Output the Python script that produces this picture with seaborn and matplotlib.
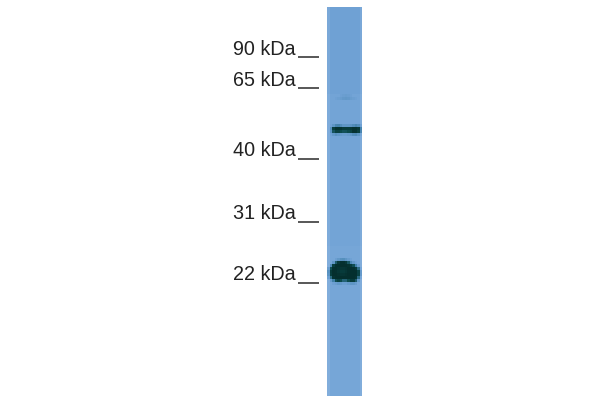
import matplotlib
import numpy as np

matplotlib.use("Agg")

import matplotlib.pyplot as plt
import seaborn as sns
from matplotlib.colors import LinearSegmentedColormap

# marker sizes and where they sit on the lane (in lane rows, 3 px each)
marker_labels = ["90 kDa", "65 kDa", "40 kDa", "31 kDa", "22 kDa"]
marker_rows = [16.6, 27.0, 50.9, 71.9, 92.3]
label_rows = [15.9, 26.3, 49.9, 70.9, 91.3]

# blot signal, 0 = pale lane, 1 = black band
lane_background = [0.20, 0.20, 0.20, 0.19, 0.19, 0.19, 0.19, 0.19, 0.18, 0.18, 0.18, 0.18, 0.18]
lane_edges = [-0.03, 0.0, 0.0, 0.0, 0.0, 0.0, 0.0, 0.0, 0.0, 0.0, 0.0, 0.0, 0.0, -0.03]

faint_band_rows = [29, 30]
faint_band = [
    [0.16, 0.19, 0.19, 0.19, 0.19, 0.21, 0.23, 0.24, 0.23, 0.21, 0.19, 0.19, 0.19, 0.16],
    [0.16, 0.19, 0.19, 0.20, 0.22, 0.24, 0.27, 0.28, 0.27, 0.24, 0.22, 0.20, 0.19, 0.16],
]

upper_band_rows = [39, 40, 41, 42]
upper_band = [
    [0.16, 0.20, 0.30, 0.44, 0.46, 0.38, 0.30, 0.30, 0.30, 0.32, 0.38, 0.44, 0.38, 0.20],
    [0.16, 0.36, 0.88, 0.96, 0.96, 0.95, 0.90, 0.90, 0.90, 0.92, 0.96, 0.96, 0.92, 0.46],
    [0.16, 0.32, 0.74, 0.86, 0.86, 0.80, 0.75, 0.76, 0.80, 0.86, 0.96, 0.96, 0.88, 0.44],
    [0.16, 0.20, 0.28, 0.34, 0.30, 0.26, 0.24, 0.24, 0.26, 0.30, 0.38, 0.40, 0.32, 0.18],
]

lower_band_rows = [84, 85, 86, 87, 88, 89, 90, 91, 92]
lower_band = [
    [0.15, 0.18, 0.18, 0.22, 0.28, 0.34, 0.36, 0.30, 0.24, 0.20, 0.18, 0.18, 0.18, 0.15],
    [0.15, 0.18, 0.30, 0.70, 0.92, 0.97, 0.97, 0.92, 0.72, 0.42, 0.28, 0.20, 0.18, 0.15],
    [0.15, 0.40, 0.88, 0.97, 0.98, 0.98, 0.98, 0.98, 0.96, 0.90, 0.78, 0.50, 0.24, 0.15],
    [0.24, 0.78, 0.97, 0.98, 0.95, 0.93, 0.93, 0.95, 0.98, 0.98, 0.97, 0.92, 0.62, 0.18],
    [0.34, 0.90, 0.98, 0.97, 0.93, 0.90, 0.90, 0.93, 0.97, 0.98, 0.98, 0.98, 0.85, 0.26],
    [0.32, 0.88, 0.98, 0.98, 0.96, 0.94, 0.94, 0.96, 0.98, 0.98, 0.98, 0.98, 0.85, 0.26],
    [0.22, 0.62, 0.95, 0.98, 0.98, 0.98, 0.98, 0.98, 0.98, 0.98, 0.98, 0.95, 0.62, 0.18],
    [0.15, 0.26, 0.50, 0.78, 0.86, 0.80, 0.66, 0.66, 0.80, 0.90, 0.90, 0.70, 0.30, 0.15],
    [0.15, 0.18, 0.21, 0.24, 0.28, 0.26, 0.22, 0.22, 0.26, 0.30, 0.30, 0.25, 0.18, 0.15],
]


def build_lane() -> np.ndarray:
    rows = np.repeat(lane_background, 10)
    lane = rows[:, None] + np.array(lane_edges)[None, :]
    for row_ids, band in [
        (faint_band_rows, faint_band),
        (upper_band_rows, upper_band),
        (lower_band_rows, lower_band),
    ]:
        lane[row_ids, :] = np.array(band)
    return lane


def main() -> None:
    sns.set_theme(style="white")
    plt.rcParams["font.family"] = ["Liberation Sans", "DejaVu Sans"]

    blot = LinearSegmentedColormap.from_list(
        "blot",
        [(0.0, "#b4d0ee"), (0.2, "#6fa1d4"), (0.5, "#3f7fa8"), (0.8, "#0c4a4c"), (1.0, "#032c2b")],
    )

    fig = plt.figure(figsize=(6, 4), dpi=100)
    # lane is 35 x 389 px on a 600 x 400 canvas
    ax = fig.add_axes([327 / 600, 1 - 396 / 400, 35 / 600, 389 / 400])
    sns.heatmap(
        build_lane(),
        ax=ax,
        cmap=blot,
        vmin=0,
        vmax=1,
        cbar=False,
        xticklabels=False,
        linewidths=0,
        rasterized=True,
    )

    ax.set_yticks(label_rows)
    ax.set_yticklabels(marker_labels, rotation=0, va="baseline", fontsize=14.2, color="#222222")
    ax.tick_params(axis="y", length=0, pad=22.5)

    # marker dashes stop short of the lane
    ax.hlines(
        marker_rows,
        -29 / 35,
        -8 / 35,
        transform=ax.get_yaxis_transform(),
        colors="#2a2a2a",
        linewidth=1.1,
        clip_on=False,
    )

    fig.savefig("out.png", dpi=100)
    plt.close(fig)


if __name__ == "__main__":
    main()
